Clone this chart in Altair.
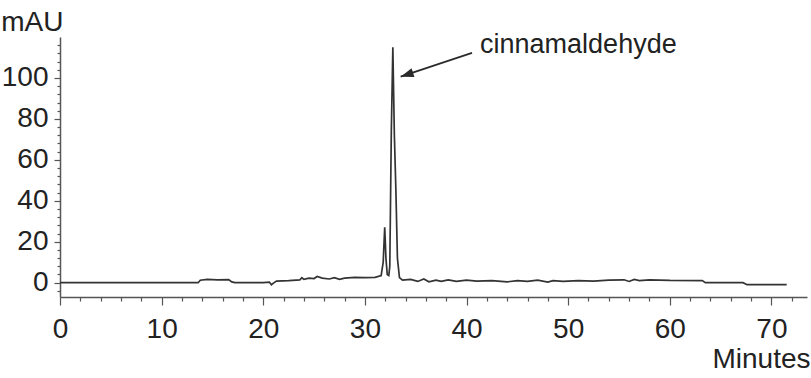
import altair as alt
import pandas as pd

# Retention time (minutes) and absorbance (mAU)
times = [0, 13.6, 13.8, 14.5, 15.5, 16.6, 16.9, 17.2, 20.0, 20.6,
         20.8, 21.0, 21.3, 22.5, 23.6, 23.8, 24.0, 24.5, 25.0, 25.3,
         25.8, 26.5, 27.0, 27.5, 28.0, 29.0, 30.0, 31.0, 31.6, 31.8,
         31.95, 32.07, 32.2, 32.35, 32.45, 32.6, 32.75, 32.9, 33.05, 33.2,
         33.4, 33.7, 34.5, 35.2, 35.8, 36.3, 37.0, 37.5, 38.2, 39.0,
         40.0, 41.0, 42.5, 44.0, 45.0, 46.0, 47.0, 48.0, 48.5, 49.5,
         51.0, 52.5, 54.0, 55.5, 56.0, 56.5, 57.0, 58.0, 60.0, 63.2,
         63.5, 67.2, 67.6, 71.5]
mau = [0, 0, 1.2, 1.6, 1.4, 1.5, 0.4, 0, 0, 0.3,
       -1.0, -0.2, 0.8, 1.0, 1.4, 2.4, 1.6, 2.2, 2.0, 3.0,
       2.2, 1.8, 2.4, 1.6, 2.2, 2.6, 2.5, 2.6, 3.5, 10,
       27, 12, 4, 3.5, 8, 74, 115, 72, 45, 12,
       2.5, 1.2, 1.6, 0.6, 1.8, 0.4, 1.2, 0.6, 1.4, 0.6,
       1.2, 0.8, 1.0, 0.4, 1.0, 0.6, 1.2, 0.3, 1.0, 0.6,
       1.0, 0.8, 1.2, 1.4, 0.6, 1.6, 1.0, 1.4, 1.1, 1.0,
       0, 0, -1.0, -1.0]

# Annotation
label_text = ["cinnamaldehyde"]
label_t = [41.33]
label_v = [112.1]
arrow_t = [40.54, 33.52]
arrow_v = [112.2, 100.6]

x_ticks = list(range(0, 74, 2))
y_ticks = list(range(-4, 120, 4))

FONT = "Liberation Sans"
INK = "#222222"

trace = pd.DataFrame({"t": times, "v": mau})
arrow = pd.DataFrame({"t": arrow_t, "v": arrow_v})
label = pd.DataFrame({"t": label_t, "v": label_v, "txt": label_text})
tip = arrow.iloc[[1]]

xscale = alt.Scale(domain=[0, 73.5], nice=False, zero=False)
yscale = alt.Scale(domain=[-7, 120], nice=False, zero=False)

x_axis = alt.Axis(
    values=x_ticks,
    tickCount=500,
    labelExpr="datum.value % 10 == 0 ? format(datum.value, 'd') : ''",
    labelOverlap=False, labelFlush=False,
    labelFontSize=28, labelFont=FONT, labelColor=INK,
    tickSize={"condition": {"test": "datum.value % 10 == 0", "value": 8}, "value": 4},
    tickColor="#555555", tickWidth=1.2,
    labelPadding=10,
    domainColor="#555555", domainWidth=1.5,
    grid=False,
    title="Minutes", titleFont=FONT, titleFontSize=28, titleFontWeight="normal",
    titleColor=INK, titleAlign="right", titleBaseline="alphabetic",
    titleX=750, titleY=70, titleAngle=0,
)
y_axis = alt.Axis(
    values=y_ticks,
    tickCount=500,
    labelExpr="datum.value % 20 == 0 ? format(datum.value, 'd') : ''",
    labelOverlap=False, labelFlush=False,
    labelFontSize=28, labelFont=FONT, labelColor=INK,
    tickSize={"condition": {"test": "datum.value % 20 == 0", "value": 6}, "value": 3},
    tickColor="#555555", tickWidth=1.2,
    labelPadding=6,
    domainColor="#555555", domainWidth=1.5,
    grid=False,
    title="mAU", titleFont=FONT, titleFontSize=28, titleFontWeight="normal",
    titleColor=INK, titleAlign="right", titleBaseline="alphabetic",
    titleX=3, titleY=-7, titleAngle=0,
)

line = alt.Chart(trace).mark_line(color="#333333", strokeWidth=1.7).encode(
    x=alt.X("t:Q", scale=xscale, axis=x_axis),
    y=alt.Y("v:Q", scale=yscale, axis=y_axis),
)

arrow_line = alt.Chart(arrow).mark_line(color="#2a2a2a", strokeWidth=1.8).encode(
    x=alt.X("t:Q", scale=xscale), y=alt.Y("v:Q", scale=yscale)
)

arrow_head = alt.Chart(tip).mark_point(
    shape="M0,0 L-2,-0.7 L-2,0.7 Z", size=169, filled=True, opacity=1,
    color="#2a2a2a", angle=161.6,
).encode(x=alt.X("t:Q", scale=xscale), y=alt.Y("v:Q", scale=yscale))

text = alt.Chart(label).mark_text(
    align="left", baseline="alphabetic", font=FONT, fontSize=27, color=INK
).encode(x=alt.X("t:Q", scale=xscale), y=alt.Y("v:Q", scale=yscale), text="txt:N")

chart = alt.layer(line, arrow_line, arrow_head, text).properties(
    width=747, height=260,
    autosize=alt.AutoSizeParams(type="none"),
    padding={"left": 60, "top": 37, "right": 4, "bottom": 81},
    background="white",
).configure_view(stroke=None)

chart.save("out.html", embed_options={"renderer": "svg", "actions": False})
